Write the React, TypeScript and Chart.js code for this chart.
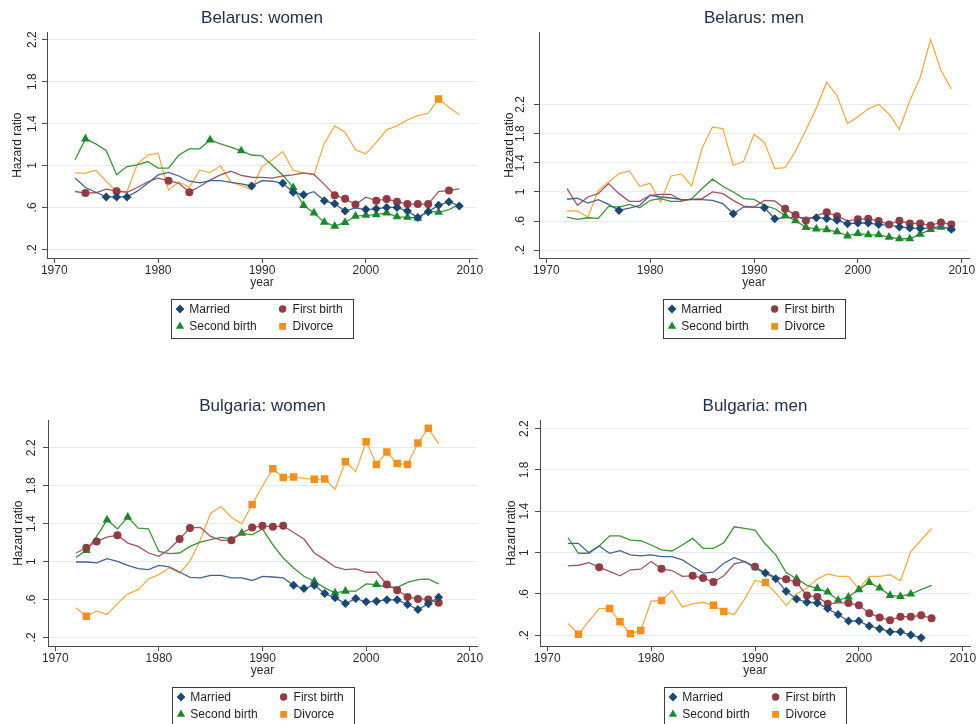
import React, { useEffect, useRef } from 'react';
import { Chart, registerables } from 'chart.js';

Chart.register(...registerables);

const FONT = "'Liberation Sans', Arial, Helvetica, sans-serif";

const BY_YEARS = [1972, 1973, 1974, 1975, 1976, 1977, 1978, 1979, 1980, 1981, 1982, 1983, 1984, 1985, 1986, 1987, 1988, 1989, 1990, 1991, 1992, 1993, 1994, 1995, 1996, 1997, 1998, 1999, 2000, 2001, 2002, 2003, 2004, 2005, 2006, 2007, 2008, 2009];
const BG_YEARS = [1972, 1973, 1974, 1975, 1976, 1977, 1978, 1979, 1980, 1981, 1982, 1983, 1984, 1985, 1986, 1987, 1988, 1989, 1990, 1991, 1992, 1993, 1994, 1995, 1996, 1997, 1998, 1999, 2000, 2001, 2002, 2003, 2004, 2005, 2006, 2007];

const X_TICKS = [1970, 1980, 1990, 2000, 2010];
const Y_TICKS = [0.2, 0.6, 1, 1.4, 1.8, 2.2];
const Y_TICK_LABELS = ['.2', '.6', '1', '1.4', '1.8', '2.2'];

const SERIES_NAMES = ['Married', 'First birth', 'Second birth', 'Divorce'];
const LINE_COLORS = ['#43628c', '#9d5563', '#3a9336', '#f3ad48'];
const MARKER_COLORS = ['#1b4872', '#933a42', '#198a2a', '#f58f1c'];
const POINT_STYLES = ['rectRot', 'circle', 'triangle', 'rect'];
const POINT_RADII = [4.5, 4.0, 5.1, 5.3];

// Belarus: women
const BYW_MARRIED = [0.88, 0.79, 0.745, 0.70, 0.70, 0.70, 0.755, 0.83, 0.91, 0.935, 0.90, 0.85, 0.835, 0.855, 0.855, 0.84, 0.825, 0.805, 0.855, 0.85, 0.83, 0.745, 0.72, 0.75, 0.665, 0.635, 0.565, 0.595, 0.58, 0.587, 0.60, 0.60, 0.565, 0.505, 0.56, 0.62, 0.655, 0.615];
const BYW_FIRST = [0.752, 0.737, 0.74, 0.775, 0.755, 0.745, 0.79, 0.845, 0.88, 0.855, 0.83, 0.746, 0.80, 0.86, 0.91, 0.945, 0.905, 0.888, 0.886, 0.88, 0.90, 0.91, 0.93, 0.915, 0.82, 0.717, 0.683, 0.628, 0.698, 0.665, 0.68, 0.655, 0.632, 0.632, 0.632, 0.752, 0.762, 0.778];
const BYW_SECOND = [1.054, 1.254, 1.206, 1.143, 0.911, 0.99, 1.006, 1.038, 0.975, 0.975, 1.10, 1.159, 1.159, 1.244, 1.206, 1.175, 1.14, 1.10, 1.092, 1.0, 0.91, 0.79, 0.62, 0.548, 0.46, 0.422, 0.457, 0.517, 0.525, 0.532, 0.548, 0.511, 0.508, 0.497, 0.566, 0.554, 0.58, 0.628];
const BYW_DIVORCE = [0.927, 0.927, 0.954, 0.85, 0.752, 0.752, 1.014, 1.1, 1.117, 0.765, 0.843, 0.792, 0.955, 0.933, 0.997, 0.843, 0.808, 0.772, 0.99, 1.054, 1.133, 0.955, 0.927, 0.911, 1.213, 1.378, 1.317, 1.149, 1.111, 1.219, 1.34, 1.378, 1.435, 1.476, 1.498, 1.635, 1.556, 1.483];
const BYW_MARKED_MARRIED = [1975, 1976, 1977, 1989, 1992, 1993, 1994, 1996, 1997, 1998, 2000, 2001, 2002, 2003, 2004, 2005, 2006, 2007, 2008, 2009];
const BYW_MARKED_FIRST = [1973, 1976, 1981, 1983, 1997, 1998, 1999, 2001, 2002, 2003, 2004, 2005, 2006, 2008];
const BYW_MARKED_SECOND = [1973, 1985, 1988, 1993, 1994, 1995, 1996, 1997, 1998, 1999, 2000, 2001, 2002, 2003, 2004, 2005, 2006, 2007];
const BYW_MARKED_DIVORCE = [2007];

// Belarus: men
const BYM_MARRIED = [0.90, 0.915, 0.848, 0.894, 0.83, 0.747, 0.779, 0.816, 0.954, 0.931, 0.917, 0.899, 0.894, 0.894, 0.885, 0.839, 0.701, 0.793, 0.793, 0.784, 0.632, 0.647, 0.652, 0.64, 0.647, 0.637, 0.611, 0.565, 0.574, 0.574, 0.552, 0.545, 0.52, 0.506, 0.497, 0.506, 0.527, 0.49];
const BYM_FIRST = [1.046, 0.816, 0.931, 0.977, 1.115, 0.977, 0.871, 0.871, 0.954, 0.968, 0.968, 0.885, 0.899, 0.908, 1.0, 0.977, 0.885, 0.807, 0.793, 0.885, 0.876, 0.768, 0.683, 0.61, 0.675, 0.72, 0.668, 0.603, 0.624, 0.633, 0.601, 0.555, 0.605, 0.568, 0.568, 0.541, 0.582, 0.555];
const BYM_SECOND = [0.655, 0.623, 0.646, 0.637, 0.802, 0.793, 0.83, 0.784, 0.885, 0.908, 0.871, 0.871, 0.908, 1.046, 1.175, 1.078, 1.0, 0.908, 0.899, 0.816, 0.77, 0.674, 0.605, 0.514, 0.494, 0.482, 0.454, 0.397, 0.431, 0.412, 0.412, 0.381, 0.358, 0.358, 0.422, 0.484, 0.518, 0.495];
const BYM_DIVORCE = [0.739, 0.739, 0.656, 1.018, 1.135, 1.252, 1.288, 1.078, 1.118, 0.862, 1.219, 1.247, 1.082, 1.6, 1.89, 1.87, 1.366, 1.417, 1.79, 1.68, 1.322, 1.335, 1.56, 1.85, 2.15, 2.506, 2.32, 1.94, 2.03, 2.14, 2.2, 2.07, 1.86, 2.25, 2.57, 3.09, 2.67, 2.41];
const BYM_MARKED_MARRIED = [1977, 1988, 1991, 1992, 1996, 1997, 1998, 1999, 2000, 2001, 2002, 2004, 2005, 2006, 2009];
const BYM_MARKED_FIRST = [1993, 1994, 1995, 1997, 1998, 2000, 2001, 2002, 2003, 2004, 2005, 2006, 2007, 2008, 2009];
const BYM_MARKED_SECOND = [1993, 1994, 1995, 1996, 1997, 1998, 1999, 2000, 2001, 2002, 2003, 2004, 2005, 2006, 2007, 2008, 2009];
const BYM_MARKED_DIVORCE: number[] = [];

// Bulgaria: women
const BGW_MARRIED = [0.995, 0.995, 0.985, 1.03, 1.002, 0.96, 0.925, 0.915, 0.96, 0.943, 0.89, 0.834, 0.827, 0.855, 0.855, 0.827, 0.827, 0.80, 0.844, 0.837, 0.827, 0.75, 0.715, 0.75, 0.662, 0.617, 0.557, 0.609, 0.575, 0.582, 0.596, 0.596, 0.547, 0.494, 0.554, 0.624];
const BGW_FIRST = [1.09, 1.145, 1.212, 1.258, 1.277, 1.195, 1.16, 1.09, 1.055, 1.13, 1.237, 1.355, 1.36, 1.265, 1.223, 1.225, 1.30, 1.359, 1.377, 1.366, 1.377, 1.307, 1.237, 1.09, 1.02, 0.943, 0.915, 0.922, 0.887, 0.887, 0.758, 0.697, 0.627, 0.606, 0.60, 0.564];
const BGW_SECOND = [1.044, 1.118, 1.265, 1.44, 1.345, 1.468, 1.352, 1.345, 1.107, 1.083, 1.09, 1.16, 1.205, 1.23, 1.254, 1.24, 1.30, 1.282, 1.345, 1.177, 1.037, 0.932, 0.845, 0.792, 0.722, 0.669, 0.687, 0.687, 0.764, 0.757, 0.729, 0.729, 0.781, 0.809, 0.816, 0.764];
const BGW_DIVORCE = [0.512, 0.424, 0.477, 0.442, 0.557, 0.659, 0.704, 0.816, 0.862, 0.932, 0.88, 1.002, 1.23, 1.51, 1.58, 1.468, 1.398, 1.602, 1.797, 1.98, 1.887, 1.893, 1.878, 1.867, 1.872, 1.762, 2.053, 1.948, 2.265, 2.025, 2.155, 2.033, 2.025, 2.25, 2.405, 2.242];
const BGW_MARKED_MARRIED = [1993, 1994, 1995, 1996, 1997, 1998, 1999, 2000, 2001, 2002, 2003, 2004, 2005, 2006, 2007];
const BGW_MARKED_FIRST = [1973, 1974, 1976, 1982, 1983, 1987, 1989, 1990, 1991, 1992, 2002, 2003, 2004, 2005, 2006, 2007];
const BGW_MARKED_SECOND = [1973, 1975, 1977, 1988, 1995, 1997, 1998, 2001];
const BGW_MARKED_DIVORCE = [1973, 1989, 1991, 1992, 1993, 1995, 1996, 1998, 2000, 2001, 2002, 2003, 2004, 2005, 2006];

// Bulgaria: men
const BGM_MARRIED = [1.09, 1.09, 1.0, 1.064, 0.994, 1.019, 0.978, 0.968, 0.978, 0.962, 0.962, 0.93, 0.866, 0.802, 0.811, 0.898, 0.952, 0.914, 0.85, 0.802, 0.747, 0.626, 0.552, 0.52, 0.514, 0.459, 0.402, 0.338, 0.338, 0.29, 0.264, 0.235, 0.235, 0.203, 0.178, null];
const BGM_FIRST = [0.872, 0.878, 0.904, 0.859, 0.818, 0.776, 0.834, 0.84, 0.914, 0.843, 0.827, 0.77, 0.776, 0.754, 0.715, 0.776, 0.891, 0.914, 0.864, 0.806, 0.76, 0.743, 0.712, 0.585, 0.572, 0.505, 0.514, 0.514, 0.491, 0.414, 0.373, 0.346, 0.38, 0.38, 0.394, 0.366];
const BGM_SECOND = [1.144, 0.994, 0.994, 1.064, 1.163, 1.163, 1.122, 1.115, 1.074, 1.026, 1.016, 1.074, 1.138, 1.042, 1.042, 1.096, 1.25, 1.234, 1.218, 1.083, 0.978, 0.808, 0.747, 0.683, 0.654, 0.619, 0.539, 0.571, 0.642, 0.712, 0.658, 0.587, 0.577, 0.60, 0.642, 0.683];
const BGM_DIVORCE = [0.315, 0.21, 0.338, 0.459, 0.459, 0.331, 0.216, 0.248, 0.53, 0.536, 0.632, 0.475, 0.504, 0.52, 0.491, 0.43, 0.402, 0.55, 0.731, 0.71, 0.61, 0.488, 0.603, 0.658, 0.744, 0.795, 0.77, 0.77, 0.648, 0.77, 0.77, 0.786, 0.728, 1.01, 1.122, 1.234];
const BGM_MARKED_MARRIED = [1991, 1992, 1993, 1994, 1995, 1996, 1997, 1998, 1999, 2000, 2001, 2002, 2003, 2004, 2005, 2006];
const BGM_MARKED_FIRST = [1975, 1981, 1984, 1985, 1986, 1990, 1993, 1994, 1995, 1996, 1997, 1999, 2000, 2001, 2002, 2003, 2004, 2005, 2006, 2007];
const BGM_MARKED_SECOND = [1994, 1996, 1997, 1998, 1999, 2000, 2001, 2002, 2003, 2004, 2005];
const BGM_MARKED_DIVORCE = [1973, 1976, 1977, 1978, 1979, 1981, 1986, 1987, 1991];

type Panel = {
  title: string;
  years: number[];
  series: (number | null)[][];
  marked: number[][];
  yMin: number;
  yMax: number;
  left: number;
  top: number;
  width: number;
  plotLeft: number;
  plotRight: number;
  tickPad: number;
  yTitlePad: number;
};

const PANELS: Panel[] = [
  { title: 'Belarus: women', years: BY_YEARS, series: [BYW_MARRIED, BYW_FIRST, BYW_SECOND, BYW_DIVORCE], marked: [BYW_MARKED_MARRIED, BYW_MARKED_FIRST, BYW_MARKED_SECOND, BYW_MARKED_DIVORCE], yMin: 0.118, yMax: 2.27, left: 0, top: 0, width: 488, plotLeft: 47, plotRight: 477, tickPad: 1, yTitlePad: 10.8 },
  { title: 'Belarus: men', years: BY_YEARS, series: [BYM_MARRIED, BYM_FIRST, BYM_SECOND, BYM_DIVORCE], marked: [BYM_MARKED_MARRIED, BYM_MARKED_FIRST, BYM_MARKED_SECOND, BYM_MARKED_DIVORCE], yMin: 0.094, yMax: 3.19, left: 488, top: 0, width: 489, plotLeft: 51, plotRight: 481, tickPad: 5, yTitlePad: 14.5 },
  { title: 'Bulgaria: women', years: BG_YEARS, series: [BGW_MARRIED, BGW_FIRST, BGW_SECOND, BGW_DIVORCE], marked: [BGW_MARKED_MARRIED, BGW_MARKED_FIRST, BGW_MARKED_SECOND, BGW_MARKED_DIVORCE], yMin: 0.109, yMax: 2.49, left: 0, top: 388, width: 488, plotLeft: 48, plotRight: 477, tickPad: 2.5, yTitlePad: 11.8 },
  { title: 'Bulgaria: men', years: BG_YEARS, series: [BGM_MARRIED, BGM_FIRST, BGM_SECOND, BGM_DIVORCE], marked: [BGM_MARKED_MARRIED, BGM_MARKED_FIRST, BGM_MARKED_SECOND, BGM_MARKED_DIVORCE], yMin: 0.097, yMax: 2.28, left: 488, top: 388, width: 489, plotLeft: 52, plotRight: 482, tickPad: 1.5, yTitlePad: 16 },
];

const PANEL_HEIGHT = 362;

function drawMarker(ctx: CanvasRenderingContext2D, style: string, x: number, y: number, color: string) {
  ctx.fillStyle = color;
  ctx.beginPath();
  if (style === 'rectRot') {
    const r = 4.4;
    ctx.moveTo(x, y - r); ctx.lineTo(x + r, y); ctx.lineTo(x, y + r); ctx.lineTo(x - r, y);
  } else if (style === 'circle') {
    ctx.arc(x, y, 3.7, 0, Math.PI * 2);
  } else if (style === 'triangle') {
    const r = 4.8;
    ctx.moveTo(x, y - r);
    ctx.lineTo(x + r * 0.866, y + r * 0.5);
    ctx.lineTo(x - r * 0.866, y + r * 0.5);
  } else {
    const s = 3.4;
    ctx.rect(x - s, y - s, 2 * s, 2 * s);
  }
  ctx.closePath();
  ctx.fill();
}

const legendBoxPlugin = {
  id: 'legendBox',
  afterDraw(chart: any) {
    const { ctx, chartArea } = chart;
    const cx = (chartArea.left + chartArea.right) / 2;
    const w = 182;
    const h = 39;
    const left = Math.round(cx - w / 2);
    const top = Math.round(chartArea.bottom + 41);
    ctx.save();
    ctx.strokeStyle = '#3d3d3d';
    ctx.lineWidth = 1;
    ctx.strokeRect(left + 0.5, top + 0.5, w, h);
    const markerCols = [9, 111.6];
    const textCols = [18.3, 121.6];
    const rows = [10, 27.4];
    chart.data.datasets.forEach((ds: any, i: number) => {
      const col = i % 2;
      const row = Math.floor(i / 2);
      const my = top + rows[row];
      drawMarker(ctx, POINT_STYLES[i], left + markerCols[col], my, MARKER_COLORS[i]);
      ctx.fillStyle = '#1e1e1e';
      ctx.font = `12px ${FONT}`;
      ctx.textBaseline = 'middle';
      ctx.textAlign = 'left';
      ctx.fillText(ds.label, left + textCols[col], my + 0.5);
    });
    ctx.restore();
  },
};

function PanelChart({ panel }: { panel: Panel }) {
  const ref = useRef<HTMLCanvasElement | null>(null);
  useEffect(() => {
    if (!ref.current) return;
    const datasets = panel.series.map((vals, si) => ({
      label: SERIES_NAMES[si],
      data: panel.years.map((yr, i) => ({ x: yr, y: vals[i] })),
      borderColor: LINE_COLORS[si],
      backgroundColor: MARKER_COLORS[si],
      borderWidth: 1.3,
      pointStyle: POINT_STYLES[si],
      pointRadius: panel.years.map((yr) => (panel.marked[si].includes(yr) ? POINT_RADII[si] : 0)),
      pointHoverRadius: 0,
      pointHitRadius: 0,
      pointBackgroundColor: MARKER_COLORS[si],
      pointBorderColor: MARKER_COLORS[si],
      pointBorderWidth: 0,
      tension: 0,
      spanGaps: false,
    }));
    const chart = new Chart(ref.current, {
      type: 'line',
      data: { datasets },
      plugins: [legendBoxPlugin],
      options: {
        animation: false,
        responsive: false,
        devicePixelRatio: 1,
        events: [],
        layout: { padding: { left: 0, right: panel.width - panel.plotRight, top: 0, bottom: 71 } },
        plugins: {
          legend: { display: false },
          tooltip: { enabled: false },
          title: {
            display: true,
            text: panel.title,
            fullSize: false,
            color: '#22304d',
            font: { family: FONT, size: 17, weight: 'normal' },
            padding: { top: 7.8, bottom: 4.1 },
          },
        },
        scales: {
          x: {
            type: 'linear',
            min: 1969.3,
            max: 2010.7,
            afterBuildTicks: (s: any) => { s.ticks = X_TICKS.map((v) => ({ value: v })); },
            afterFit: (s: any) => { s.height = 33; },
            ticks: {
              autoSkip: false,
              maxRotation: 0,
              minRotation: 0,
              padding: 0,
              color: '#2a2a2a',
              font: { family: FONT, size: 12 },
              callback: (v: any) => String(v),
            },
            grid: { drawOnChartArea: false, drawTicks: true, tickLength: 5, tickColor: '#4a4a4a' },
            border: { display: true, color: '#4a4a4a', width: 1 },
            title: { display: true, text: 'year', color: '#2a2a2a', font: { family: FONT, size: 12 }, padding: { top: 0, bottom: 1 } },
          },
          y: {
            type: 'linear',
            min: panel.yMin,
            max: panel.yMax,
            afterBuildTicks: (s: any) => { s.ticks = Y_TICKS.map((v) => ({ value: v })); },
            afterFit: (s: any) => { s.width = panel.plotLeft; },
            ticks: {
              autoSkip: false,
              minRotation: 90,
              maxRotation: 90,
              crossAlign: 'center',
              padding: panel.tickPad,
              color: '#2a2a2a',
              font: { family: FONT, size: 12 },
              callback: (_v: any, i: number) => Y_TICK_LABELS[i],
            },
            grid: { color: '#e4eaf0', lineWidth: 1, drawTicks: true, tickLength: 5, tickColor: '#4a4a4a' },
            border: { display: true, color: '#4a4a4a', width: 1 },
            title: { display: true, text: 'Hazard ratio', color: '#1e1e1e', font: { family: FONT, size: 12 }, padding: { top: panel.yTitlePad, bottom: 0 } },
          },
        },
      } as any,
    });
    return () => chart.destroy();
  }, [panel]);
  return (
    <div style={{ position: 'absolute', left: panel.left, top: panel.top, width: panel.width, height: PANEL_HEIGHT }}>
      <canvas ref={ref} width={panel.width} height={PANEL_HEIGHT} style={{ display: 'block' }} />
    </div>
  );
}

export default function App() {
  return (
    <div style={{ position: 'fixed', left: 0, top: 0, width: 977, height: 724, overflow: 'hidden', background: '#ffffff' }}>
      {PANELS.map((p) => (
        <PanelChart key={p.title} panel={p} />
      ))}
    </div>
  );
}
